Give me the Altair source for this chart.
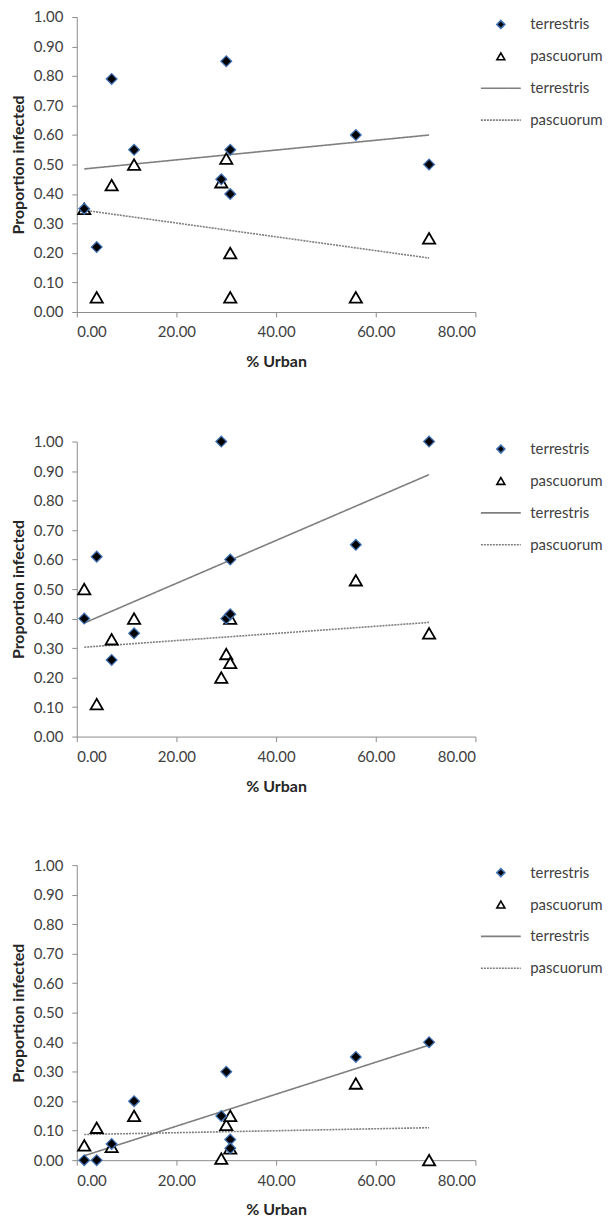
import altair as alt
import pandas as pd

# % Urban of the ten sites (same for every panel)
urban = [1.5, 4.0, 7.0, 11.5, 29.0, 30.0, 30.8, 30.8, 56.0, 70.7]

# Panel 1
p1_terr = [0.35, 0.22, 0.79, 0.55, 0.45, 0.85, 0.55, 0.40, 0.60, 0.50]
p1_pasc = [0.35, 0.05, 0.43, 0.50, 0.44, 0.52, 0.20, 0.05, 0.05, 0.25]
# Panel 2
p2_terr = [0.40, 0.61, 0.26, 0.35, 1.00, 0.40, 0.60, 0.415, 0.65, 1.00]
p2_pasc = [0.50, 0.11, 0.33, 0.40, 0.20, 0.28, 0.25, 0.40, 0.53, 0.35]
# Panel 3
p3_terr = [0.00, 0.00, 0.055, 0.20, 0.15, 0.30, 0.07, 0.04, 0.35, 0.40]
p3_pasc = [0.05, 0.11, 0.045, 0.15, 0.005, 0.12, 0.15, 0.04, 0.26, 0.00]

# Trend line end points
trend_x = [1.5, 70.7]
p1_fit_terr = [0.485, 0.600]
p1_fit_pasc = [0.345, 0.183]
p2_fit_terr = [0.385, 0.888]
p2_fit_pasc = [0.303, 0.387]
p3_fit_terr = [0.015, 0.390]
p3_fit_pasc = [0.087, 0.110]

keys = ["terrestris", "pascuorum", "terrestris_fit", "pascuorum_fit"]

FONT = "Lato"
LABEL_COLOR = "#404040"
AXIS_COLOR = "#8c8c8c"
BLUE = "#3f6fb0"
LINE_GREY = "#7f7f7f"


def key_enc(channel, rng):
    return channel(
        "key:N",
        scale=alt.Scale(domain=keys, range=rng),
        legend=alt.Legend(
            title=None,
            orient="right",
            offset=18,
            labelExpr="replace(datum.label, '_fit', '')",
            labelFont=FONT,
            labelFontSize=15,
            labelColor=LABEL_COLOR,
            labelOffset=22,
            symbolSize=64,
            symbolStrokeWidth=1.6,
            rowPadding=16,
            padding=0,
        ),
    )


def panel(terr, pasc, fit_terr, fit_pasc):
    pts = pd.DataFrame(
        {
            "urban": urban + urban,
            "value": terr + pasc,
            "key": ["terrestris"] * len(urban) + ["pascuorum"] * len(urban),
        }
    )
    fits = pd.DataFrame(
        {
            "urban": trend_x + trend_x,
            "value": fit_terr + fit_pasc,
            "key": ["terrestris_fit"] * 2 + ["pascuorum_fit"] * 2,
        }
    )
    x = alt.X(
        "urban:Q",
        title="% Urban",
        scale=alt.Scale(domain=[0, 80], nice=False),
        axis=alt.Axis(values=[0, 20, 40, 60, 80], format=".2f"),
    )
    y = alt.Y(
        "value:Q",
        title="Proportion infected",
        scale=alt.Scale(domain=[0, 1], nice=False),
        axis=alt.Axis(values=[i / 10 for i in range(11)], format=".2f"),
    )
    shape = key_enc(alt.Shape, ["diamond", "triangle-up", "M-5,0H5", "M-5,0H5"])
    fill = key_enc(alt.Fill, ["black", "white", "transparent", "transparent"])
    stroke = key_enc(alt.Stroke, [BLUE, "black", LINE_GREY, LINE_GREY])
    dash = key_enc(alt.StrokeDash, [[1, 0], [1, 0], [1, 0], [2, 1]])

    lines = alt.Chart(fits).mark_line(strokeWidth=1.6).encode(
        x=x, y=y, stroke=stroke, strokeDash=dash
    )
    tri = alt.Chart(pts).transform_filter(
        alt.datum.key == "pascuorum"
    ).mark_point(size=150, strokeWidth=1.8, opacity=1).encode(
        x=x, y=y, shape=shape, fill=fill, stroke=stroke
    )
    dia = alt.Chart(pts).transform_filter(
        alt.datum.key == "terrestris"
    ).mark_point(size=115, strokeWidth=1.3, opacity=1).encode(
        x=x, y=y, shape=shape, fill=fill, stroke=stroke
    )
    return alt.layer(lines, tri, dia).properties(width=400, height=296)


chart = (
    alt.vconcat(
        panel(p1_terr, p1_pasc, p1_fit_terr, p1_fit_pasc),
        panel(p2_terr, p2_pasc, p2_fit_terr, p2_fit_pasc),
        panel(p3_terr, p3_pasc, p3_fit_terr, p3_fit_pasc),
        spacing=64,
    )
    .resolve_scale(shape="independent", fill="independent", stroke="independent", strokeDash="independent")
    .resolve_legend(shape="independent", fill="independent", stroke="independent", strokeDash="independent")
    .properties(padding={"left": 2, "top": 0, "right": 0, "bottom": 0})
    .configure_view(stroke=None)
    .configure_axis(
        grid=False,
        domainColor=AXIS_COLOR,
        tickColor=AXIS_COLOR,
        tickSize=5,
        labelFont=FONT,
        labelFontSize=15,
        labelColor=LABEL_COLOR,
        titleFont=FONT,
        titleFontSize=16,
        titleFontWeight="bold",
        titleColor="#262626",
    )
    .configure_axisX(labelPadding=8, titlePadding=14)
    .configure_axisY(labelPadding=9, titlePadding=7)
)

chart.save("out.html", embed_options={"renderer": "svg", "actions": False})
